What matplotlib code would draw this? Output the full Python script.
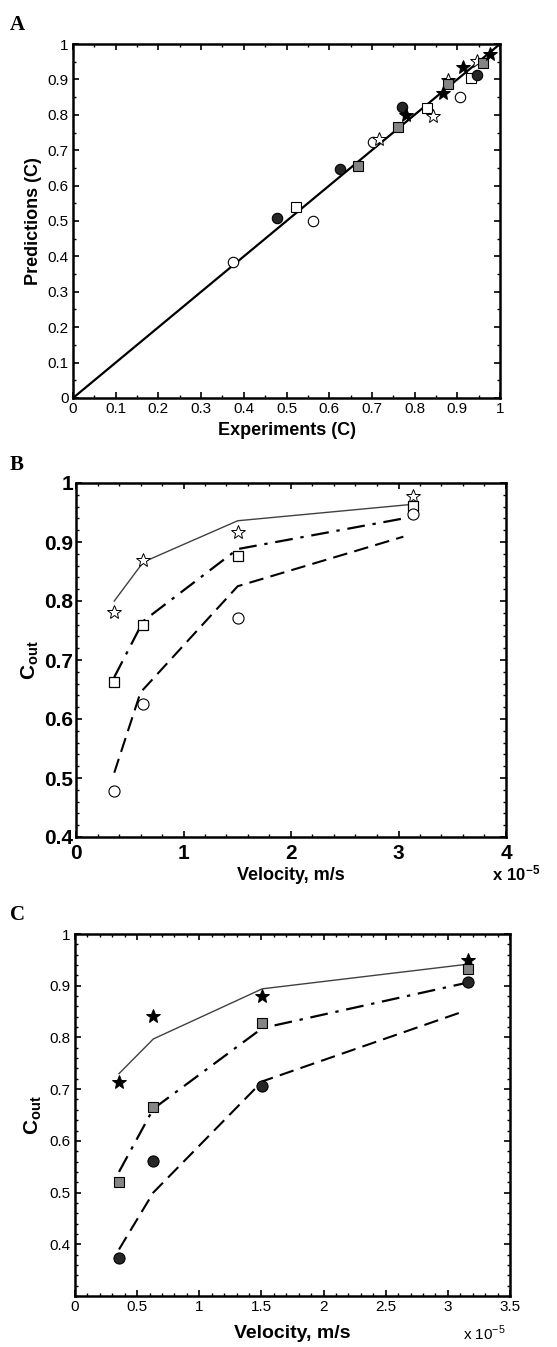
import matplotlib
matplotlib.use("Agg")
import matplotlib.pyplot as plt
from matplotlib.ticker import MultipleLocator, FuncFormatter

plt.rcParams['font.family'] = ['Liberation Sans', 'DejaVu Sans']
plt.rcParams['mathtext.fontset'] = 'custom'
plt.rcParams['mathtext.rm'] = 'Liberation Sans'
plt.rcParams['mathtext.bf'] = 'Liberation Sans:bold'

# ---------------- Panel A data (experiments, predictions) ----------------
a_open_circle_x = [0.375, 0.563, 0.703, 0.906]
a_open_circle_y = [0.384, 0.500, 0.723, 0.850]
a_open_square_x = [0.522, 0.829, 0.932]
a_open_square_y = [0.540, 0.819, 0.904]
a_open_star_x = [0.717, 0.842, 0.879, 0.946]
a_open_star_y = [0.733, 0.797, 0.898, 0.952]
a_fill_circle_x = [0.477, 0.625, 0.771, 0.946]
a_fill_circle_y = [0.508, 0.646, 0.822, 0.912]
a_gray_square_x = [0.667, 0.761, 0.879, 0.960]
a_gray_square_y = [0.656, 0.766, 0.887, 0.946]
a_fill_star_x = [0.780, 0.867, 0.914, 0.977]
a_fill_star_y = [0.800, 0.862, 0.935, 0.972]
a_line = [0, 1]

# ---------------- Panel B data ----------------
b_vel = [0.356e-5, 0.626e-5, 1.504e-5, 3.138e-5]
b_star = [0.782, 0.869, 0.917, 0.978]
b_square = [0.662, 0.760, 0.877, 0.961]
b_circle = [0.478, 0.625, 0.771, 0.947]
b_pred_vel_solid = [0.356e-5, 0.626e-5, 1.504e-5, 3.138e-5]
b_pred_solid = [0.800, 0.866, 0.936, 0.964]
b_pred_vel_dashdot = [0.356e-5, 0.626e-5, 1.504e-5, 3.138e-5]
b_pred_dashdot = [0.671, 0.766, 0.888, 0.943]
b_pred_vel_dashed = [0.356e-5, 0.600e-5, 1.504e-5, 3.045e-5]
b_pred_dashed = [0.509, 0.645, 0.825, 0.909]

# ---------------- Panel C data ----------------
c_vel = [0.354e-5, 0.630e-5, 1.507e-5, 3.160e-5]
c_star = [0.713, 0.841, 0.881, 0.950]
c_square = [0.520, 0.666, 0.827, 0.932]
c_circle = [0.374, 0.561, 0.707, 0.908]
c_pred_vel_solid = [0.354e-5, 0.630e-5, 1.507e-5, 3.140e-5]
c_pred_solid = [0.730, 0.797, 0.894, 0.941]
c_pred_vel_dashdot = [0.354e-5, 0.630e-5, 1.507e-5, 3.140e-5]
c_pred_dashdot = [0.540, 0.662, 0.818, 0.905]
c_pred_vel_dashed = [0.354e-5, 0.630e-5, 1.507e-5, 3.098e-5]
c_pred_dashed = [0.390, 0.500, 0.715, 0.848]

W, H = 557, 1347
fig = plt.figure(figsize=(W / 100, H / 100), dpi=100)


def ax_at(l, t, r, b):
    return fig.add_axes([l / W, 1 - b / H, (r - l) / W, (b - t) / H])


def style(ax, lw=1.8):
    for s in ax.spines.values():
        s.set_linewidth(lw)
    ax.tick_params(which='both', direction='in', top=True, right=True)
    ax.tick_params(which='major', length=4, width=1.2)
    ax.tick_params(which='minor', length=2, width=1.0)


GRAY = '#858585'
DARK = '#262626'
fmt_plain = FuncFormatter(lambda v, p: '%g' % round(v, 2))
fmt_e5 = FuncFormatter(lambda v, p: '%g' % round(v * 1e5, 2))

# ---------------- Panel A ----------------
axA = ax_at(73, 44, 500, 398)
axA.plot(a_line, a_line, color='black', lw=1.6, zorder=2)
ms_c, ms_s, ms_st = 7.5, 6.5, 10
axA.plot(a_open_circle_x, a_open_circle_y, 'o', ms=ms_c, mfc='white', mec='black', mew=0.8, ls='none', zorder=3)
axA.plot(a_open_square_x, a_open_square_y, 's', ms=ms_s, mfc='white', mec='black', mew=0.8, ls='none', zorder=3)
axA.plot(a_open_star_x, a_open_star_y, '*', ms=ms_st, mfc='white', mec='black', mew=0.7, ls='none', zorder=3)
axA.plot(a_fill_circle_x, a_fill_circle_y, 'o', ms=ms_c, mfc=DARK, mec='black', mew=0.8, ls='none', zorder=3)
axA.plot(a_gray_square_x, a_gray_square_y, 's', ms=ms_s, mfc=GRAY, mec='black', mew=0.8, ls='none', zorder=3)
axA.plot(a_fill_star_x, a_fill_star_y, '*', ms=ms_st, mfc='black', mec='black', mew=0.7, ls='none', zorder=3)
axA.set_xlim(0, 1)
axA.set_ylim(0, 1)
axA.xaxis.set_major_locator(MultipleLocator(0.1))
axA.xaxis.set_minor_locator(MultipleLocator(0.05))
axA.yaxis.set_major_locator(MultipleLocator(0.1))
axA.yaxis.set_minor_locator(MultipleLocator(0.05))
axA.xaxis.set_major_formatter(fmt_plain)
axA.yaxis.set_major_formatter(fmt_plain)
style(axA)
axA.tick_params(labelsize=11, pad=3)
axA.set_xlabel('Experiments (C)', fontsize=13, fontweight='bold', labelpad=4)
axA.set_ylabel('Predictions (C)', fontsize=13, fontweight='bold', labelpad=4)
fig.text(10 / W, 1 - 30 / H, 'A', fontsize=15, fontweight='bold', family='Liberation Serif')

# ---------------- Panel B ----------------
axB = ax_at(76, 483, 506, 837)
axB.plot(b_pred_vel_solid, b_pred_solid, color='#404040', lw=1.0, zorder=2)
axB.plot(b_pred_vel_dashdot, b_pred_dashdot, color='black', lw=1.6, dashes=(8, 3.5, 1.5, 3.5), zorder=2)
axB.plot(b_pred_vel_dashed, b_pred_dashed, color='black', lw=1.5, dashes=(7, 3.5), zorder=2)
axB.plot(b_vel, b_star, '*', ms=10, mfc='white', mec='black', mew=0.7, ls='none', zorder=3)
axB.plot(b_vel, b_square, 's', ms=6.5, mfc='white', mec='black', mew=0.9, ls='none', zorder=3)
axB.plot(b_vel, b_circle, 'o', ms=8, mfc='white', mec='black', mew=0.8, ls='none', zorder=3)
axB.set_xlim(0, 4e-5)
axB.set_ylim(0.4, 1.0)
axB.xaxis.set_major_locator(MultipleLocator(1e-5))
axB.xaxis.set_minor_locator(MultipleLocator(0.2e-5))
axB.yaxis.set_major_locator(MultipleLocator(0.1))
axB.yaxis.set_minor_locator(MultipleLocator(0.02))
axB.xaxis.set_major_formatter(fmt_e5)
axB.yaxis.set_major_formatter(fmt_plain)
style(axB)
axB.tick_params(axis='x', labelsize=15, pad=5)
axB.tick_params(axis='y', labelsize=15, pad=2)
for lab in axB.get_xticklabels() + axB.get_yticklabels():
    lab.set_fontweight('bold')
axB.set_xlabel('Velocity, m/s', fontsize=13, fontweight='bold', labelpad=3)
axB.set_ylabel(r'$\mathbf{C_{out}}$', fontsize=15, labelpad=2)
fig.text(492 / W, 1 - 880 / H, r'$\mathbf{x\ 10^{-5}}$', fontsize=12)
fig.text(10 / W, 1 - 470 / H, 'B', fontsize=15, fontweight='bold', family='Liberation Serif')

# ---------------- Panel C ----------------
axC = ax_at(75, 934, 510, 1296)
axC.plot(c_pred_vel_solid, c_pred_solid, color='#404040', lw=1.0, zorder=2)
axC.plot(c_pred_vel_dashdot, c_pred_dashdot, color='black', lw=1.6, dashes=(8, 3.5, 1.5, 3.5), zorder=2)
axC.plot(c_pred_vel_dashed, c_pred_dashed, color='black', lw=1.5, dashes=(7, 3.5), zorder=2)
axC.plot(c_vel, c_star, '*', ms=10, mfc='black', mec='black', mew=0.7, ls='none', zorder=3)
axC.plot(c_vel, c_square, 's', ms=6.5, mfc=GRAY, mec='black', mew=0.8, ls='none', zorder=3)
axC.plot(c_vel, c_circle, 'o', ms=8, mfc=DARK, mec='black', mew=0.8, ls='none', zorder=3)
axC.set_xlim(0, 3.5e-5)
axC.set_ylim(0.3, 1.0)
axC.xaxis.set_major_locator(MultipleLocator(0.5e-5))
axC.xaxis.set_minor_locator(MultipleLocator(0.1e-5))
axC.set_yticks([0.4, 0.5, 0.6, 0.7, 0.8, 0.9, 1.0])
axC.yaxis.set_minor_locator(MultipleLocator(0.02))
axC.xaxis.set_major_formatter(fmt_e5)
axC.yaxis.set_major_formatter(fmt_plain)
style(axC)
axC.tick_params(labelsize=11, pad=3)
axC.set_xlabel('Velocity, m/s', fontsize=14, fontweight='bold', labelpad=8)
axC.set_ylabel(r'$\mathbf{C_{out}}$', fontsize=15, labelpad=4)
fig.text(463 / W, 1 - 1340 / H, r'x 10$^{-5}$', fontsize=11)
fig.text(10 / W, 1 - 920 / H, 'C', fontsize=15, fontweight='bold', family='Liberation Serif')

fig.savefig('out.png', dpi=100)
